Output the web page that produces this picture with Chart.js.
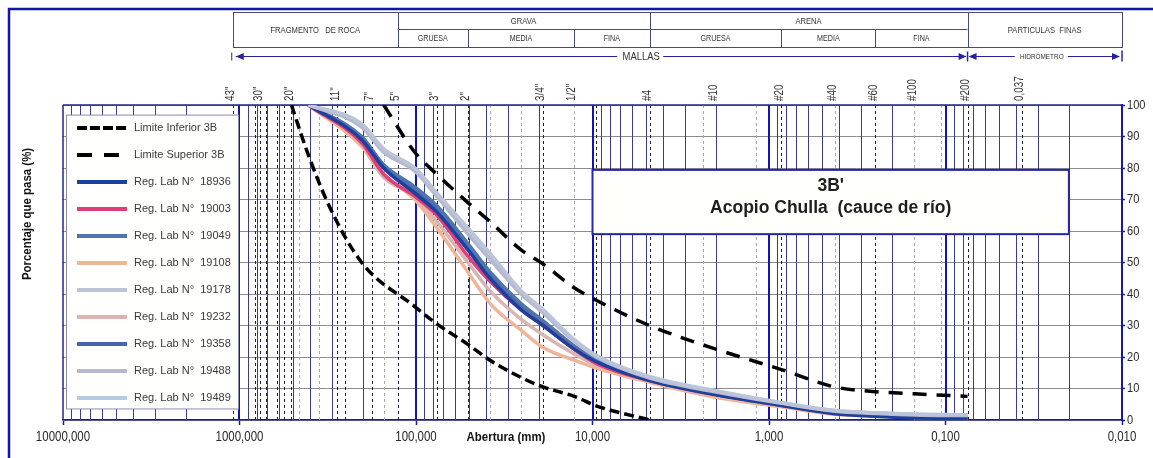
<!DOCTYPE html>
<html><head><meta charset="utf-8">
<script src="https://cdn.jsdelivr.net/npm/chart.js@4.4.1/dist/chart.umd.min.js"></script>
<style>html,body{margin:0;padding:0;background:#fff;overflow:hidden}canvas{display:block}</style>
</head><body>
<canvas id="c" width="1153" height="458"></canvas>
<script>
// ---------------- DATA ----------------
const sieveSizes = [406.4, 203.2, 152.4, 101.6, 76.2, 50.8, 38.1, 25.4, 19.05, 12.7, 9.525, 4.75, 2.0, 0.85, 0.425, 0.25, 0.15, 0.075];
const s18936 = [100, 89, 80, 72, 66, 54, 45, 35, 30, 22.5, 18.5, 12.5, 8.0, 4.6, 2.0, 1.2, 0.7, 0.4];
const s19003 = [100, 88, 78, 71, 65, 52, 44, 35, 30, 22.5, 18, 12.5, 8.1, 4.7, 2.2, 1.4, 0.9, 0.6];
const s19049 = [100, 90, 81, 74, 68, 56, 47, 37, 31.5, 23.5, 19, 13, 8.5, 5.0, 2.5, 1.7, 1.2, 0.9];
const s19108 = [100, 87, 78, 70, 61, 47, 37, 28.5, 23, 19, 16.5, 12, 7.2, 4.2, 1.8, 1.2, 0.8, 0.5];
const s19178 = [100, 94, 86, 80, 72, 61, 53, 41, 35, 25.5, 20.5, 13.6, 9.2, 5.5, 3.0, 2.3, 1.8, 1.6];
const s19232 = [100, 87, 77, 71, 63, 50, 41, 32, 27, 21, 17.5, 12.3, 7.6, 4.4, 2.0, 1.4, 1.0, 0.7];
const s19358 = [100, 89, 80, 73, 67, 55, 46, 36, 31, 23, 18.8, 12.8, 8.3, 4.8, 2.3, 1.5, 1.0, 0.6];
const s19488 = [100, 93, 85, 79, 71, 59, 51, 40, 34, 25, 20, 13.3, 8.9, 5.3, 2.8, 2.1, 1.6, 1.4];
const s19489 = [100, 94, 86, 80, 72, 60, 52, 41, 35, 25.5, 20.5, 13.8, 9.3, 5.5, 3.0, 2.3, 1.9, 1.7];
const sampleIds = ['18936', '19003', '19049', '19108', '19178', '19232', '19358', '19488', '19489'];
const sampleValues = [s18936, s19003, s19049, s19108, s19178, s19232, s19358, s19488, s19489];

const lowerSizes = [508, 406.4, 304.8, 203.2, 101.6, 76.2, 50.8, 38.1, 25.4, 19.05, 12.7, 9.525, 4.75];
const lowerLimit = [100, 84, 67, 50, 36, 30.5, 24, 19, 13.5, 10.5, 7.5, 4.5, 0];
const upperSizes = [152.4, 101.6, 76.2, 50.8, 38.1, 25.4, 19.05, 12.7, 9.525, 4.75, 2.0, 0.85, 0.425, 0.25, 0.15, 0.075];
const upperLimit = [100, 85, 78, 69, 63, 54, 49.5, 42, 38, 30, 22.5, 16, 10.5, 9, 8.3, 7.5];

const xTickValues = [10000, 1000, 100, 10, 1, 0.1, 0.01];
const meshLabels = ['43"', '30"', '20"', '11"', '7"', '5"', '3"', '2"', '3/4"', '1/2"', '#4', '#10', '#20', '#40', '#60', '#100', '#200', '0,037'];
const meshSizes = [1092.2, 762, 508, 279.4, 177.8, 127, 76.2, 50.8, 19.05, 12.7, 4.75, 2.0, 0.85, 0.425, 0.25, 0.15, 0.075, 0.037];
const darkSieves = [1092.2, 812.8, 762, 711.2, 609.6, 558.8, 508, 279.4, 254, 177.8, 127, 76.2, 50.8, 19.05, 9.525, 4.75, 0.85, 0.25, 0.075, 0.037];
const lightSieves = [457.2, 355.6, 152.4, 38.1, 25.4, 12.7, 2.36, 1.18, 0.425, 0.15, 0.106];
// header classification bounds (mm)
const headerMain = [1092.2, 127, 4.75, 0.075, 0.01];
const headerMainNames = ['FRAGMENTO   DE ROCA', 'GRAVA', 'ARENA', 'PARTICULAS  FINAS'];
const headerSub = [[127, 50.8, 12.7, 4.75], [4.75, 0.85, 0.25, 0.075]];
const headerSubNames = ['GRUESA', 'MEDIA', 'FINA'];

// ---------------- STYLE ----------------
const sampleColors = ['#1d3f9e', '#e23c7b', '#4f76ac', '#efb59a', '#bcc4d8', '#d8b5b3', '#4866b0', '#b5b8cf', '#b7cce2'];
const sampleOrder = [2, 2, 2, 2, 1, 2, 2, 1, 1];
const FONT = "'Liberation Sans', Arial, sans-serif";

function txt(ctx, s, x, y, o) {
  ctx.save();
  ctx.translate(x, y);
  if (o.rot) ctx.rotate(o.rot);
  ctx.scale(o.sx || 1, 1);
  ctx.font = (o.bold ? 'bold ' : '') + o.size + 'px ' + FONT;
  ctx.fillStyle = o.color || '#333';
  ctx.textAlign = o.align || 'center';
  ctx.textBaseline = o.base || 'middle';
  ctx.fillText(s, 0, 0);
  ctx.restore();
}
function fmt(v) { return v.toFixed(3).replace('.', ','); }

const datasets = [
  { label: 'Limite Inferior 3B', data: lowerSizes.map((x, i) => ({ x, y: lowerLimit[i] })),
    borderColor: '#000', borderWidth: 3.5, borderDash: [10, 5], order: 0 },
  { label: 'Limite Superior 3B', data: upperSizes.map((x, i) => ({ x, y: upperLimit[i] })),
    borderColor: '#000', borderWidth: 3.5, borderDash: [14, 10], order: 0 }
];
sampleIds.forEach((id, k) => {
  datasets.push({ label: 'Reg. Lab N°  ' + id, data: sieveSizes.map((x, i) => ({ x, y: sampleValues[k][i] })),
    borderColor: sampleColors[k], borderWidth: 3.5, order: sampleOrder[k] });
});
datasets.forEach(d => { d.pointRadius = 0; d.fill = false; d.cubicInterpolationMode = 'monotone'; });

const decor = {
  id: 'decor',
  beforeDatasetsDraw(chart) {
    const { ctx, chartArea: a, scales: { x, y } } = chart;
    ctx.save();
    ctx.beginPath(); ctx.rect(a.left, a.top - 1, a.right - a.left, a.bottom - a.top + 1); ctx.clip();
    const vline = (v, color, w, dash) => {
      const px = Math.round(x.getPixelForValue(v)) + (w % 2 ? 0.5 : 0);
      ctx.strokeStyle = color; ctx.lineWidth = w; ctx.setLineDash(dash || []);
      ctx.beginPath(); ctx.moveTo(px, a.top); ctx.lineTo(px, a.bottom); ctx.stroke();
    };
    [0.01, 0.1, 1, 10, 100, 1000].forEach(d => { for (let k = 2; k <= 9; k++) vline(k * d, '#3c3c8c', 1); });
    lightSieves.forEach(v => vline(v, '#a9a9b4', 1, [3, 3]));
    darkSieves.forEach(v => vline(v, '#1c1c3c', 1, [3, 3]));
    [0.1, 1, 10, 100, 1000].forEach(d => vline(d, '#1414b4', 2));
    ctx.restore();
    ctx.save();
    ctx.strokeStyle = '#24248e'; ctx.lineWidth = 1.5; ctx.setLineDash([]);
    ctx.beginPath(); ctx.moveTo(a.left, a.top); ctx.lineTo(a.right, a.top); ctx.stroke();
    ctx.beginPath(); ctx.moveTo(a.left, a.top); ctx.lineTo(a.left, a.bottom); ctx.stroke();
    ctx.restore();
  },
  afterDraw(chart) {
    const { ctx, chartArea: a, scales: { x, y } } = chart;
    const X = v => x.getPixelForValue(v), Y = v => y.getPixelForValue(v);
    ctx.save();
    // outer frame
    ctx.strokeStyle = '#1414a8'; ctx.lineWidth = 2.5;
    ctx.beginPath(); ctx.moveTo(9, 458); ctx.lineTo(9, 9); ctx.lineTo(1153, 9); ctx.stroke();

    // header table
    const hTop = 12.5, hMid = 29.5, hBot = 47.5;
    ctx.strokeStyle = '#4a4a78'; ctx.lineWidth = 1;
    const L = X(headerMain[0]), R = X(headerMain[headerMain.length - 1]);
    ctx.strokeRect(Math.round(L) + 0.5, hTop, Math.round(R - L), hBot - hTop);
    headerMain.forEach(v => { const p = Math.round(X(v)) + 0.5; ctx.beginPath(); ctx.moveTo(p, hTop); ctx.lineTo(p, hBot); ctx.stroke(); });
    headerSub.forEach(g => {
      const p0 = X(g[0]), p1 = X(g[g.length - 1]);
      ctx.beginPath(); ctx.moveTo(p0, hMid); ctx.lineTo(p1, hMid); ctx.stroke();
      for (let i = 1; i < g.length - 1; i++) { const p = Math.round(X(g[i])) + 0.5; ctx.beginPath(); ctx.moveTo(p, hMid); ctx.lineTo(p, hBot); ctx.stroke(); }
      for (let i = 0; i < g.length - 1; i++) txt(ctx, headerSubNames[i], (X(g[i]) + X(g[i + 1])) / 2, (hMid + hBot) / 2, { size: 8.7, sx: 0.82, color: '#333' });
    });
    for (let i = 0; i < headerMain.length - 1; i++) {
      const cx = (X(headerMain[i]) + X(headerMain[i + 1])) / 2;
      const sub = (i === 1 || i === 2);
      txt(ctx, headerMainNames[i], cx, sub ? (hTop + hMid) / 2 : (hTop + hBot) / 2, { size: 9.3, sx: 0.82, color: '#333' });
    }

    // MALLAS / HIDROMETRO arrows
    const ay = 56.5, mEnd = X(0.075), hEnd = X(0.01);
    ctx.strokeStyle = '#2424a0'; ctx.fillStyle = '#2424a0'; ctx.lineWidth = 1;
    const arrow = (px, dir) => { ctx.beginPath(); ctx.moveTo(px, ay); ctx.lineTo(px - dir * 8, ay - 3.5); ctx.lineTo(px - dir * 8, ay + 3.5); ctx.closePath(); ctx.fill(); };
    const mx = X(5.3);
    ctx.beginPath(); ctx.moveTo(L + 3, ay); ctx.lineTo(mx - 24, ay); ctx.moveTo(mx + 22, ay); ctx.lineTo(mEnd - 2, ay); ctx.stroke();
    arrow(L + 3, -1); arrow(mEnd - 1, 1);
    ctx.beginPath(); ctx.moveTo(L - 1, ay - 4); ctx.lineTo(L - 1, ay + 4); ctx.stroke();
    txt(ctx, 'MALLAS', mx, ay, { size: 11.5, sx: 0.82, color: '#333' });
    const hx = (mEnd + hEnd) / 2 - 3;
    ctx.beginPath(); ctx.moveTo(mEnd + 2, ay); ctx.lineTo(hx - 27, ay); ctx.moveTo(hx + 26, ay); ctx.lineTo(hEnd - 4, ay); ctx.stroke();
    arrow(mEnd + 1, -1); arrow(hEnd - 2, 1);
    ctx.lineWidth = 1.5;
    ctx.beginPath(); ctx.moveTo(hEnd, ay - 6); ctx.lineTo(hEnd, ay + 5); ctx.stroke();
    ctx.beginPath(); ctx.moveTo(mEnd, ay - 5); ctx.lineTo(mEnd, ay + 5); ctx.stroke();
    txt(ctx, 'HIDRÓMETRO', hx, ay, { size: 7.8, sx: 0.82, color: '#333' });

    // mesh labels
    meshSizes.forEach((v, i) => txt(ctx, meshLabels[i], X(v) - 2, 101, { size: 12, sx: 0.82, rot: -Math.PI / 2, align: 'left', color: '#333' }));

    // x tick labels + axis title
    xTickValues.forEach(v => txt(ctx, fmt(v), X(v), 437, { size: 14, sx: 0.82, color: '#2a2a2a' }));
    txt(ctx, 'Abertura (mm)', 506, 437, { size: 13, sx: 0.88, bold: true, color: '#111' });
    // y tick labels + title
    for (let v = 0; v <= 100; v += 10) txt(ctx, String(v), a.right + 5, Y(v), { size: 13.5, sx: 0.82, align: 'left', color: '#2a2a2a' });
    txt(ctx, 'Porcentaje que pasa (%)', 27, 214, { size: 13, sx: 0.88, bold: true, rot: -Math.PI / 2, color: '#111' });

    // title box
    const tx0 = X(10), tx1 = X(0.02), ty0 = Y(79.4), ty1 = Y(59);
    ctx.fillStyle = '#fffffb'; ctx.fillRect(tx0, ty0, tx1 - tx0, ty1 - ty0);
    ctx.strokeStyle = '#2626a6'; ctx.lineWidth = 2; ctx.strokeRect(tx0, ty0, tx1 - tx0, ty1 - ty0);
    txt(ctx, "3B'", (tx0 + tx1) / 2, ty0 + 16.5, { size: 17.5, bold: true, color: '#1e1e1e' });
    txt(ctx, 'Acopio Chulla  (cauce de río)', (tx0 + tx1) / 2, ty0 + 38, { size: 17.5, bold: true, color: '#1e1e1e' });

    // legend
    const lx0 = 66.5, lx1 = X(1000) - 1, ly0 = Y(96.8), ly1 = Y(3.5);
    ctx.fillStyle = '#fffffd'; ctx.fillRect(lx0, ly0, lx1 - lx0, ly1 - ly0);
    ctx.strokeStyle = '#8a8cb4'; ctx.lineWidth = 1; ctx.strokeRect(lx0, ly0, lx1 - lx0, ly1 - ly0);
    chart.data.datasets.forEach((d, i) => {
      const yy = ly0 + 13 + i * 27;
      ctx.strokeStyle = d.borderColor; ctx.lineWidth = 4;
      ctx.setLineDash(d.borderDash ? (i === 0 ? [10, 3] : [15, 12]) : []);
      ctx.beginPath(); ctx.moveTo(77, yy); ctx.lineTo(127, yy); ctx.stroke();
      ctx.setLineDash([]);
      txt(ctx, d.label, 134, yy, { size: 11, align: 'left', color: '#3a3a3a' });
    });
    ctx.restore();
  }
};

new Chart(document.getElementById('c').getContext('2d'), {
  type: 'line',
  data: { datasets },
  options: {
    responsive: false, animation: false, devicePixelRatio: 1,
    layout: { padding: { left: 63, top: 105, right: 0, bottom: 0 } },
    plugins: { legend: { display: false }, tooltip: { enabled: false } },
    elements: { line: { borderCapStyle: 'butt', borderJoinStyle: 'round' } },
    scales: {
      x: {
        type: 'logarithmic', reverse: true, min: 0.01, max: 10000, position: 'bottom',
        afterBuildTicks: s => { s.ticks = xTickValues.map(v => ({ value: v })); },
        afterFit: s => { s.height = 38; },
        ticks: { display: false, autoSkip: false },
        grid: { display: true, drawOnChartArea: false, drawTicks: true, tickLength: 5, tickColor: '#1c1c8c', tickWidth: 1.5 },
        border: { display: true, color: '#1c1c8c', width: 1.5 }
      },
      y: {
        position: 'right', min: 0, max: 100,
        afterFit: s => { s.width = 31; },
        ticks: { display: false, stepSize: 10 },
        grid: { color: '#8c8c8c', lineWidth: 1, drawTicks: true, tickLength: 3, tickColor: '#1c1c8c', tickWidth: 1.5 },
        border: { display: true, color: '#1818a8', width: 2 }
      }
    }
  },
  plugins: [decor]
});
</script>
</body></html>
